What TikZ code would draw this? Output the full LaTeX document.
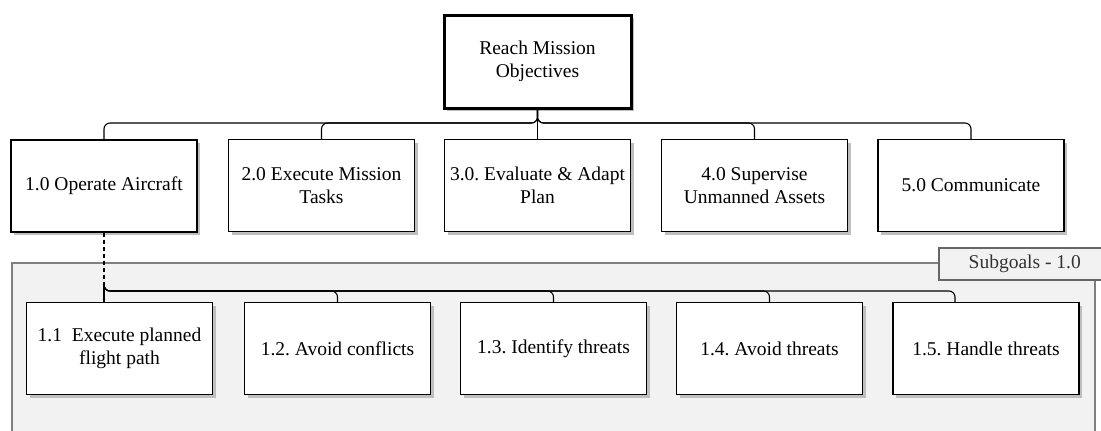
\documentclass[tikz,border=0pt]{standalone}
\usepackage{fontspec}
\setmainfont{Liberation Serif}
\usetikzlibrary{shadows}
\tikzset{
  goal/.style={draw, line width=1.2pt, fill=white, minimum width=186pt, minimum height=92pt,
    align=center, inner sep=0pt, font=\fontsize{19.5}{23}\selectfont,
    drop shadow={shadow xshift=3pt, shadow yshift=-3pt, fill=black!25, opacity=1}},
  link/.style={line width=1.1pt, rounded corners=6pt},
  tag/.style={draw=black!60, line width=1.5pt, fill=black!5, text=black!80, inner sep=0pt,
    minimum width=172pt, minimum height=32pt, font=\fontsize{19.5}{23}\selectfont}
}
\begin{document}
\frenchspacing
\begin{tikzpicture}[x=1pt,y=-1pt]
\useasboundingbox (0,0) rectangle (1101,431);
\node[goal, line width=3pt, minimum width=187pt, minimum height=93pt] (mission) at (537.5,61.5) {Reach Mission\\Objectives};
\node[goal] (op) at (104,186) {1.0 Operate Aircraft};
\node[goal] (exec) at (321.5,185.5) {2.0 Execute Mission\\Tasks};
\node[goal] (eval) at (537.5,185.5) {3.0. Evaluate \& Adapt\\Plan};
\node[goal] (sup) at (754.5,185.5) {4.0 Supervise\\Unmanned Assets};
\node[goal] (comm) at (971,185.5) {5.0 Communicate};
\coordinate (bus) at (0,123);
\foreach \g in {op,exec,eval,sup,comm}
  \draw[link] (mission.south) -- (mission.south |- bus) -| (\g.north);
\draw[draw=black!50, line width=1.2pt, fill=black!5] (12,263) rectangle (1095,445);
\node[tag, anchor=north west] (subtag) at (938,247) {Subgoals - 1.0};
\node[goal] (s1) at (119.5,348.5) {1.1\ \ Execute planned\\flight path};
\node[goal] (s2) at (337.5,348.5) {1.2. Avoid conflicts};
\node[goal] (s3) at (553.5,348.5) {1.3. Identify threats};
\node[goal] (s4) at (769.5,348.5) {1.4. Avoid threats};
\node[goal] (s5) at (986,348.5) {1.5. Handle threats};
\coordinate (hub) at (104,284);
\coordinate (subbus) at (0,291);
\draw[line width=1.1pt, dash pattern=on 4pt off 3pt] (op.south) -- (hub);
\draw[link] (hub) -- (hub |- s1.north);
\foreach \g/\dx in {s2/0,s3/0,s4/0,s5/-31}
  \draw[link] (hub) -- (hub |- subbus) -| ([xshift=\dx pt]\g.north);
\end{tikzpicture}
\end{document}
